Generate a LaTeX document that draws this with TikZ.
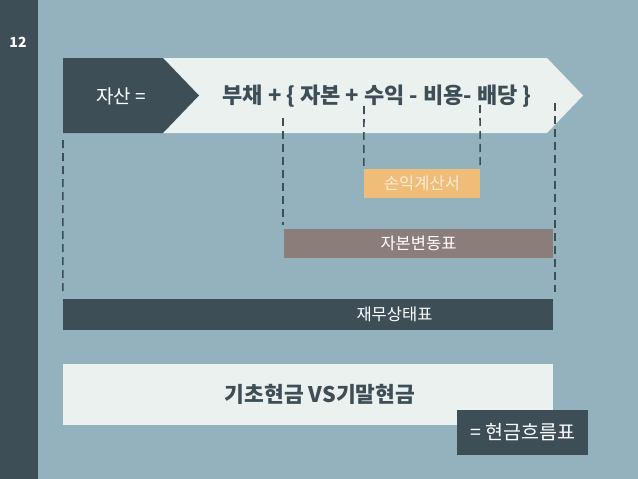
\documentclass[tikz,border=0pt]{standalone}
\usepackage{fontspec}
\setmainfont{Noto Sans CJK KR}
\usetikzlibrary{positioning}
\definecolor{slatebg}{HTML}{94B2BD}
\definecolor{slatedark}{HTML}{3E4E57}
\definecolor{paleband}{HTML}{EBF1EF}
\definecolor{sandbox}{HTML}{F0BD79}
\definecolor{sandtext}{HTML}{FAEBD5}
\definecolor{taupe}{HTML}{8B7D79}
\tikzstyle{bar} = [rectangle, inner sep=0pt, minimum height=29pt, text=white, font=\fontsize{16.5}{19}\selectfont]
\tikzstyle{guide} = [draw=slatedark, line width=1.6pt, dash pattern=on 8pt off 5pt]

\begin{document}
\begin{tikzpicture}[x=1pt, y=-1pt]

% Background
\fill[slatebg] (0,0) rectangle (638,479);
\useasboundingbox (0,0) rectangle (638,479);
\fill[slatedark] (0,0) rectangle (38,479);
\node (pageno) [text=white, font=\fontsize{14}{16}\selectfont\bfseries] at (18,42) {12};

% Equation band
\fill[paleband] (163,58) -- (547,58) -- (583,95.5) -- (547,133) -- (163,133) -- cycle;
\fill[slatedark] (63,58) -- (163,58) -- (199,95.5) -- (163,133) -- (63,133) -- cycle;
\node (asset) [text=white, font=\fontsize{19}{22}\selectfont] at (121,96) {자산 =};
\node (equation) [text=slatedark, font=\fontsize{22}{26}\selectfont\bfseries] at (377,96) {부채 + \{ 자본 + 수익 - 비용- 배당 \}};

% Statements
\node (income) [bar, fill=sandbox, text=sandtext, minimum width=116pt] at (422,183.5) {손익계산서};
\node (equity) [bar, fill=taupe, minimum width=269pt] at (418.5,243.5) {자본변동표};
\node (balance) [bar, fill=slatedark, minimum width=490pt, minimum height=31pt] at (308,314.5) {\hspace*{173pt}재무상태표};

% Cash
\node (cash) [rectangle, inner sep=0pt, fill=paleband, minimum width=490pt, minimum height=61pt, text=slatedark, font=\fontsize{21.5}{25}\selectfont\bfseries] at (308,394.5) {\hspace*{24pt}기초현금 VS기말현금};
\node (cashflow) [bar, fill=slatedark, minimum width=131pt, minimum height=45pt, font=\fontsize{19.5}{23}\selectfont] at (522.5,432.5) {= 현금흐름표};

% Guides
\coordinate (g1) at (63,140);
\coordinate (g2) at (283,118);
\coordinate (g3) at (364,106);
\coordinate (g4) at (480,105);
\coordinate (g5) at (555,103);
\draw [guide, shorten >=4pt] (g1) -- (balance.north west);
\draw [guide, shorten >=4pt] (g2) -- (g2 |- equity.north);
\draw [guide, shorten >=3pt] (g3) -- (income.north west);
\draw [guide, shorten >=3pt] (g4) -- (income.north east);
\draw [guide, shorten >=7pt] (g5) -- (g5 |- balance.north);

\end{tikzpicture}
\end{document}
